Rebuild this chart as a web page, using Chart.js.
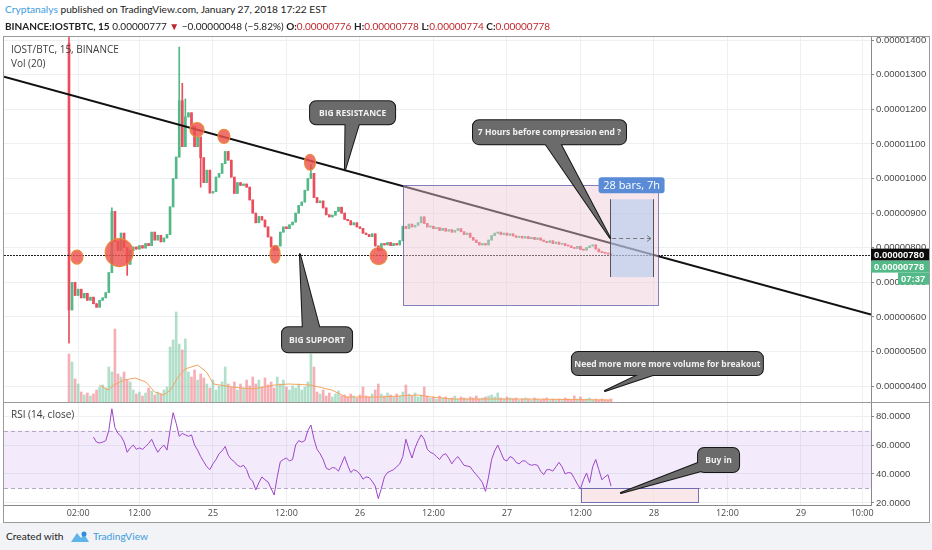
<!DOCTYPE html>
<html>
<head>
<meta charset="utf-8">
<script src="https://cdn.jsdelivr.net/npm/chart.js@4.4.1/dist/chart.umd.min.js"></script>
<style>
  body { margin:0; width:932px; height:550px; background:#fff; position:relative; overflow:hidden;
         font-family:"Open Sans", Arial, sans-serif; }
  .hdr { position:absolute; left:5px; white-space:nowrap; color:#222; z-index:5; font-family:Lato, "Open Sans", sans-serif; }
  #h1 { top:3px; font-size:10.2px; }
  #h2 { top:20px; font-size:10px; }
  .blue { color:#3d9be0; }
  .red { color:#c0262d; }
  #frame { position:absolute; left:3px; top:36px; width:925px; height:485px; border:1px solid #9a9a9a; z-index:4; pointer-events:none; }
  .sep { position:absolute; left:4px; width:925px; height:1px; background:#9a9a9a; top:402px; z-index:4; }
  canvas { position:absolute; left:4px; }
  #mainChart { top:30px; }
  #rsiChart { top:403px; }
  .leg { position:absolute; left:11px; font-size:10px; color:#3c3c3c; z-index:5; }
  #footer { position:absolute; left:0; top:523px; width:932px; height:27px; background:#f1f3f6; font-size:10.2px; color:#222; font-family:Lato, "Open Sans", sans-serif; }
  #footer span { position:absolute; top:7px; }
</style>
</head>
<body>
<div class="hdr" id="h1"><span class="blue">Cryptanalys</span> published on TradingView.com, January 27, 2018 17:22 EST</div>
<div class="hdr" id="h2"><b>BINANCE:IOSTBTC, 15</b> 0.00000777 <span class="red">▼</span> −0.00000048 (−5.82%) <b>O:</b><span class="red">0.00000776</span> <b>H:</b><span class="red">0.00000778</span> <b>L:</b><span class="red">0.00000774</span> <b>C:</b><span class="red">0.00000778</span></div>

<canvas id="mainChart" width="925" height="372"></canvas>
<canvas id="rsiChart" width="925" height="119"></canvas>
<div id="frame"></div>
<div class="sep"></div>
<div class="leg" style="top:42px">IOST/BTC, 15, BINANCE</div>
<div class="leg" style="top:56px">Vol (20)</div>
<div class="leg" style="top:407px">RSI (14, close)</div>

<div id="footer">
  <span style="left:6px">Created with</span>
  <svg style="position:absolute;left:70px;top:7px" width="20" height="13" viewBox="0 0 20 13">
    <path d="M1 12 L7 3 L11 8 L14 4 L19 12 Z" fill="#5fb4ea"/>
    <circle cx="14" cy="4" r="2.5" fill="#2f8fdc"/>
  </svg>
  <span style="left:93px;color:#3d9be0">TradingView</span>
</div>

<script>
/* ------------------------------------------------------------
   DATA  (prices in satoshi = 1e-8 BTC, one bar = 30 min,
          bar 0 = Jan 24 00:30)
------------------------------------------------------------ */
const closes = [
  620, 700, 662, 680, 655, 668, 648, 657, 638, 628,
  648, 655, 670, 728, 905, 818, 792, 842, 800, 752,
  792, 802, 796, 806, 799, 812, 806, 845, 822, 836,
  817, 828, 838, 918, 1000, 1062, 1225, 1092, 1178, 1190,
  1150, 1092, 1120, 1060, 988, 1024, 958, 962, 1004, 1015,
  1043, 1078, 1053, 1004, 957, 988, 980, 984, 975, 938,
  900, 872, 890, 880, 860, 831, 802, 793, 805, 845,
  860, 855, 866, 874, 900, 922, 932, 966, 1000, 1015,
  945, 930, 935, 915, 895, 889, 894, 905, 917, 900,
  882, 878, 866, 872, 860, 856, 842, 838, 832, 840,
  805, 792, 812, 808, 815, 806, 812, 808, 820, 862,
  855, 868, 860, 865, 872, 889, 870, 860, 862, 855,
  858, 850, 856, 848, 852, 845, 850, 855, 846, 838,
  842, 830, 822, 815, 808, 812, 808, 822, 835, 842,
  845, 838, 842, 836, 840, 834, 830, 833, 828, 832,
  826, 830, 824, 828, 822, 818, 815, 820, 812, 816,
  810, 812, 806, 805, 800, 798, 804, 795, 793, 800,
  805, 808, 796, 788, 786, 784, 782, 777
];
const firstOpen = 1390;
// wicks that stick out of the bodies: [bar, price]
const wickHighs = [[0, 1600], [14, 915], [36, 1380], [37, 1275], [38, 1230], [79, 1040]];
const wickLows = [[0, 524], [19, 720], [43, 975]];

const volumes = [
  48, 40, 23, 18, 10, 7, 9, 6, 8, 12,
  15, 17, 14, 35, 30, 73, 28, 25, 30, 22,
  20, 12, 8, 10, 6, 9, 14, 11, 7, 10,
  8, 12, 15, 55, 62, 90, 58, 52, 63, 30,
  25, 32, 22, 28, 24, 18, 14, 22, 12, 16,
  20, 35, 18, 15, 20, 12, 18, 14, 22, 16,
  25, 18, 22, 15, 24, 17, 20, 14, 25, 18,
  22, 15, 12, 16, 14, 18, 12, 15, 20, 48,
  35, 10, 8, 12, 6, 9, 5, 8, 11, 6,
  7, 5, 8, 6, 4, 7, 15, 6, 5, 8,
  12, 18, 8, 6, 9, 7, 5, 8, 6, 10,
  17, 8, 6, 9, 5, 7, 15, 6, 4, 5,
  3, 6, 4, 5, 3, 4, 6, 3, 5, 4,
  3, 5, 4, 6, 3, 4, 5, 6, 7, 5,
  9, 4, 3, 5, 4, 3, 4, 2, 3, 4,
  3, 2, 4, 3, 2, 3, 4, 2, 3, 2,
  3, 2, 4, 3, 2, 6, 3, 5, 2, 3,
  4, 2, 3, 2, 3, 2, 2, 3
];
const volMaBars = [9.9, 12.8, 14.6, 18.1, 21.6, 25.1, 28, 30.9, 33.2, 35.6, 37.9, 42, 44.9, 47.2,
                   53.1, 60.1, 67.1, 71.8, 78.8, 85.8, 90.4, 102.1, 113.8, 118.4, 125.4, 148.8, 177];
const volMaValues = [17, 12, 17, 22, 24, 20, 10, 7, 12, 25, 33, 37, 30, 18,
                     15, 13, 17, 18, 17, 12, 5, 5, 7, 5, 3, 3, 2];

const rsiStart = 8;
const rsiValues = [
  65.5, 62, 61.4, 62, 63, 70, 85, 72, 68, 66,
  62, 55, 58, 60, 57, 58, 57, 59, 61, 64,
  59, 55, 58, 60, 56.5, 70, 82.3, 75, 66, 68,
  67, 66, 67, 60, 56.5, 52, 48.5, 45, 43, 47,
  50, 54, 56, 59, 53, 50, 48.5, 46, 45, 46,
  43, 37, 35, 29, 34, 38, 36, 34.5, 30, 25.5,
  38, 48.5, 50, 51, 49, 50, 60, 63, 62, 63,
  70, 73.8, 64, 57, 54, 50, 44, 43, 44.5, 44,
  42, 47, 52, 46, 41, 43, 42, 40, 36.4, 38,
  37.5, 35, 31.6, 23, 30, 38, 41, 42, 43, 45,
  47, 52, 64, 57, 51, 58, 63, 67, 64, 57,
  55, 54, 52, 50, 53, 54, 51, 47, 50, 52,
  49, 46, 45.5, 45, 42, 39.5, 37, 34, 28, 38,
  50, 56, 60, 55, 50, 49, 52, 51, 48, 47,
  49, 49, 47, 46, 46.5, 46, 42, 39.5, 43, 43,
  42, 45, 48, 45, 40, 41, 40.7, 37, 33, 29.6,
  36, 40.7, 34, 45, 50, 43, 36, 38, 39.5, 31.6
];

const timeTickBars = [3, 23, 47, 71, 95, 119, 143, 167, 191, 215, 239, 259];
const timeTickLabels = ["02:00", "12:00", "25", "12:00", "26", "12:00", "27", "12:00", "28", "12:00", "29", "10:00"];
const priceTicks = [400, 500, 600, 700, 800, 900, 1000, 1100, 1200, 1300, 1400];
const rsiTicks = [20, 40, 60, 80];

const levelPrice = 780;
const lastPrice = 778;
const countdown = "07:37";

/* ------------------------------------------------------------
   DRAWINGS (anchored in bar / price units)
------------------------------------------------------------ */
const trendLine = [[-3, 1250], [191, 779]];
const compressionBox = { from: 109.1, to: 192.3, low: 634, high: 981 };
const dateRange = { from: 176.7, to: 190.7, low: 715, high: 940, arrow: 828, label: "28 bars, 7h" };
const circles = [
  [2.6, 773, 6, 7], [16.4, 786, 14, 14], [41.8, 1141, 7, 7], [50.6, 1122, 6, 7],
  [67.3, 781, 5, 9], [78.7, 1047, 5.5, 8], [101.1, 776, 8.5, 8.5]
];
const priceCallouts = [
  { text: "BIG RESISTANCE", at: [92.6, 1190], w: 85, h: 23, tip: [90.1, 1024], base: [[-7, 6], [8, 6]] },
  { text: "BIG SUPPORT", at: [81, 534], w: 70, h: 25, tip: [75.4, 781], base: [[-14, -6], [4, -6]] },
  { text: "7 Hours before compression end ?", at: [156.9, 1134], w: 153, h: 24, tip: [176.7, 828], base: [[-8, 6], [8, 6]] },
  { text: "Need more more more volume for breakout", at: [195.4, 465], w: 191, h: 23, tip: [175, 386], base: [[-16, 5], [5, 5]] }
];
const rsiBox = { from: 167.3, to: 205.5, low: 20.7, high: 30.3 };
const rsiCallout = { text: "Buy in", at: [212.1, 49.7], w: 41, h: 24, tip: [180.2, 26.9], base: [[-18, 2], [-10, 9]] };

/* ------------------------------------------------------------
   THEME
------------------------------------------------------------ */
const UP = "#53b987", DOWN = "#eb4d5c";
const GRID = "#edf0f3";
const X_MIN = -21.22, X_MAX = 261.88;

Chart.defaults.font.family = "'Open Sans', Arial, sans-serif";
Chart.defaults.animation = false;

/* ------------------------------------------------------------
   CANDLES
------------------------------------------------------------ */
const bars = closes.map((_, i) => i);
const opens = closes.map((c, i) => i === 0 ? firstOpen : closes[i - 1]);
const highs = bars.map(i => {
  const w = wickHighs.find(e => e[0] === i);
  return w ? w[1] : Math.max(opens[i], closes[i]);
});
const lows = bars.map(i => {
  const w = wickLows.find(e => e[0] === i);
  return w ? w[1] : Math.min(opens[i], closes[i]);
});
const isUp = bars.map(i => closes[i] >= opens[i]);

function fmtPrice(v) { return (v / 1e8).toFixed(8); }

function drawCallout(ctx, cx, cy, w, h, tip, base, text) {
  const b1 = [cx + base[0][0], cy + base[0][1]];
  const b2 = [cx + base[1][0], cy + base[1][1]];
  const tail = () => { ctx.beginPath(); ctx.moveTo(b1[0], b1[1]); ctx.lineTo(tip[0], tip[1]); ctx.lineTo(b2[0], b2[1]); ctx.closePath(); };
  const box = () => { ctx.beginPath(); ctx.roundRect(cx - w / 2, cy - h / 2, w, h, 6); };
  ctx.save();
  ctx.lineWidth = 2;
  ctx.lineJoin = "round";
  ctx.strokeStyle = "#161616";
  ctx.fillStyle = "#6b6b6b";
  tail(); ctx.stroke();
  box(); ctx.stroke();
  box(); ctx.fill();
  tail(); ctx.fill();
  ctx.fillStyle = "#f2f2f2";
  ctx.font = "bold 8.5px 'Open Sans', Arial, sans-serif";
  ctx.textAlign = "center";
  ctx.textBaseline = "middle";
  ctx.fillText(text, cx, cy + 0.5);
  ctx.restore();
}

function axisTag(ctx, x, y, w, bg, text) {
  ctx.fillStyle = bg;
  ctx.fillRect(x, y - 6, w, 12);
  ctx.fillStyle = "#fff";
  ctx.font = "bold 9.5px 'Liberation Sans', Arial, sans-serif";
  ctx.textAlign = "left";
  ctx.textBaseline = "middle";
  ctx.fillText(text, x + 3, y + 0.5);
}

const mainOverlays = {
  id: "mainOverlays",
  afterDatasetsDraw(chart) {
    const { ctx, chartArea: a, scales: { x, y } } = chart;
    ctx.save();
    ctx.beginPath();
    ctx.rect(a.left, a.top, a.width, a.height);
    ctx.clip();

    // support level
    ctx.strokeStyle = "#222";
    ctx.lineWidth = 1;
    ctx.setLineDash([2, 1]);
    const ly = Math.round(y.getPixelForValue(levelPrice)) + 0.5;
    ctx.beginPath(); ctx.moveTo(a.left, ly); ctx.lineTo(a.right, ly); ctx.stroke();
    ctx.setLineDash([]);

    // descending trend line, extended over the whole pane
    const [p, q] = trendLine;
    const x1 = x.getPixelForValue(p[0]), y1 = y.getPixelForValue(p[1]);
    const x2 = x.getPixelForValue(q[0]), y2 = y.getPixelForValue(q[1]);
    const k = (y2 - y1) / (x2 - x1);
    ctx.strokeStyle = "#111";
    ctx.lineWidth = 2;
    ctx.beginPath();
    ctx.moveTo(a.left, y1 + k * (a.left - x1));
    ctx.lineTo(a.right, y1 + k * (a.right - x1));
    ctx.stroke();

    // compression rectangle
    const bx = x.getPixelForValue(compressionBox.from), bx2 = x.getPixelForValue(compressionBox.to);
    const by = y.getPixelForValue(compressionBox.high), by2 = y.getPixelForValue(compressionBox.low);
    ctx.fillStyle = "rgba(237,199,213,0.45)";
    ctx.fillRect(bx, by, bx2 - bx, by2 - by);
    ctx.strokeStyle = "rgba(90,90,170,0.75)";
    ctx.lineWidth = 1;
    ctx.strokeRect(Math.round(bx) + 0.5, Math.round(by) + 0.5, Math.round(bx2 - bx), Math.round(by2 - by));

    // date range
    const rx = x.getPixelForValue(dateRange.from), rx2 = x.getPixelForValue(dateRange.to);
    const ry = y.getPixelForValue(dateRange.high), ry2 = y.getPixelForValue(dateRange.low);
    ctx.fillStyle = "rgba(165,198,240,0.5)";
    ctx.fillRect(rx, ry, rx2 - rx, ry2 - ry);
    ctx.strokeStyle = "#555";
    ctx.beginPath();
    ctx.moveTo(Math.round(rx) + 0.5, ry); ctx.lineTo(Math.round(rx) + 0.5, ry2);
    ctx.moveTo(Math.round(rx2) + 0.5, ry); ctx.lineTo(Math.round(rx2) + 0.5, ry2);
    ctx.stroke();
    const ay = Math.round(y.getPixelForValue(dateRange.arrow)) + 0.5;
    ctx.strokeStyle = "#777";
    ctx.setLineDash([4, 3]);
    ctx.beginPath(); ctx.moveTo(rx + 2, ay); ctx.lineTo(rx2 - 2, ay); ctx.stroke();
    ctx.setLineDash([]);
    ctx.beginPath(); ctx.moveTo(rx2 - 6, ay - 3); ctx.lineTo(rx2 - 2, ay); ctx.lineTo(rx2 - 6, ay + 3); ctx.stroke();
    const lx = (rx + rx2) / 2;
    ctx.fillStyle = "#5a8bd6";
    ctx.beginPath(); ctx.roundRect(lx - 33, ry - 22, 66, 16, 3); ctx.fill();
    ctx.fillStyle = "#fff";
    ctx.font = "11px 'Open Sans', Arial, sans-serif";
    ctx.textAlign = "center"; ctx.textBaseline = "middle";
    ctx.fillText(dateRange.label, lx, ry - 13.5);

    // touch points
    ctx.lineWidth = 1.2;
    circles.forEach(([bi, pr, rxx, ryy]) => {
      ctx.beginPath();
      ctx.ellipse(x.getPixelForValue(bi), y.getPixelForValue(pr), rxx, ryy, 0, 0, Math.PI * 2);
      ctx.fillStyle = "rgba(238,82,78,0.82)";
      ctx.fill();
      ctx.strokeStyle = "#e98a3c";
      ctx.stroke();
    });
    ctx.restore();

    priceCallouts.forEach(c => {
      drawCallout(ctx, x.getPixelForValue(c.at[0]), y.getPixelForValue(c.at[1]), c.w, c.h,
        [x.getPixelForValue(c.tip[0]), y.getPixelForValue(c.tip[1])], c.base, c.text);
    });
  },
  afterDraw(chart) {
    const { ctx, scales: { y } } = chart;
    const ty = y.getPixelForValue(levelPrice);
    ctx.save();
    axisTag(ctx, y.left, ty, y.width, "#0b0b0b", fmtPrice(levelPrice));
    axisTag(ctx, y.left, ty + 12, y.width, "#53b987", fmtPrice(lastPrice));
    axisTag(ctx, y.left + 27, ty + 24, y.width - 27, "#53b987", countdown);
    ctx.restore();
  }
};

new Chart(document.getElementById("mainChart"), {
  type: "bar",
  data: {
    datasets: [
      {
        label: "bodies",
        order: 0,
        data: bars.map(i => ({ x: i, y: [opens[i], closes[i]] })),
        backgroundColor: bars.map(i => isUp[i] ? UP : DOWN),
        barThickness: 2,
        minBarLength: 1,
        grouped: false,
        yAxisID: "y"
      },
      {
        label: "wicks",
        order: 1,
        data: bars.map(i => ({ x: i, y: [lows[i], highs[i]] })),
        backgroundColor: bars.map(i => isUp[i] ? UP : DOWN),
        barThickness: 1,
        grouped: false,
        yAxisID: "y"
      },
      {
        label: "Vol MA",
        type: "line",
        order: 2,
        data: volMaBars.map((b, k) => ({ x: b, y: volMaValues[k] })),
        borderColor: "#f4a460",
        borderWidth: 1,
        pointRadius: 0,
        yAxisID: "yVol"
      },
      {
        label: "Volume",
        order: 3,
        data: bars.map(i => ({ x: i, y: volumes[i] })),
        backgroundColor: bars.map(i => isUp[i] ? "rgba(83,185,135,0.45)" : "rgba(235,77,92,0.45)"),
        barThickness: 2,
        grouped: false,
        yAxisID: "yVol"
      }
    ]
  },
  options: {
    responsive: false,
    layout: { padding: { top: 7, left: 0, right: 0, bottom: 0 } },
    plugins: { legend: { display: false }, tooltip: { enabled: false } },
    scales: {
      x: {
        type: "linear", min: X_MIN, max: X_MAX, offset: false,
        afterBuildTicks: s => { s.ticks = timeTickBars.map(v => ({ value: v })); },
        afterFit: s => { s.height = 0; s.paddingLeft = 0; s.paddingRight = 0; },
        ticks: { display: false },
        grid: { color: GRID, drawTicks: false, offset: false },
        border: { display: false }
      },
      y: {
        position: "right", min: 354, max: 1409,
        afterBuildTicks: s => { s.ticks = priceTicks.map(v => ({ value: v })); },
        afterFit: s => { s.width = 58; s.paddingTop = 0; s.paddingBottom = 0; },
        ticks: { callback: v => fmtPrice(v), color: "#4a4a4a", padding: 2,
                 font: { size: 9.5, family: "'Liberation Sans', Arial, sans-serif" } },
        grid: { color: GRID, tickLength: 3, tickColor: "#888" },
        border: { color: "#8a8a8a" }
      },
      yVol: { display: false, min: 0, max: 365 }
    }
  },
  plugins: [mainOverlays]
});

/* ------------------------------------------------------------
   RSI PANE
------------------------------------------------------------ */
const rsiOverlays = {
  id: "rsiOverlays",
  beforeDatasetsDraw(chart) {
    const { ctx, chartArea: a, scales: { y } } = chart;
    const top = y.getPixelForValue(70), bot = y.getPixelForValue(30);
    ctx.save();
    ctx.fillStyle = "rgba(160,90,225,0.12)";
    ctx.fillRect(a.left, top, a.width, bot - top);
    ctx.strokeStyle = "#b4a8c4";
    ctx.setLineDash([4, 3]);
    [top, bot].forEach(v => {
      ctx.beginPath(); ctx.moveTo(a.left, Math.round(v) + 0.5); ctx.lineTo(a.right, Math.round(v) + 0.5); ctx.stroke();
    });
    ctx.restore();
  },
  afterDatasetsDraw(chart) {
    const { ctx, scales: { x, y } } = chart;
    const bx = x.getPixelForValue(rsiBox.from), bx2 = x.getPixelForValue(rsiBox.to);
    const by = y.getPixelForValue(rsiBox.high), by2 = y.getPixelForValue(rsiBox.low);
    ctx.save();
    ctx.fillStyle = "rgba(245,215,220,0.6)";
    ctx.fillRect(bx, by, bx2 - bx, by2 - by);
    ctx.strokeStyle = "rgba(90,90,170,0.85)";
    ctx.lineWidth = 1;
    ctx.strokeRect(Math.round(bx) + 0.5, Math.round(by) + 0.5, Math.round(bx2 - bx), Math.round(by2 - by));
    ctx.restore();
    const c = rsiCallout;
    drawCallout(ctx, x.getPixelForValue(c.at[0]), y.getPixelForValue(c.at[1]), c.w, c.h,
      [x.getPixelForValue(c.tip[0]), y.getPixelForValue(c.tip[1])], c.base, c.text);
  }
};

new Chart(document.getElementById("rsiChart"), {
  type: "line",
  data: {
    datasets: [{
      label: "RSI (14, close)",
      data: rsiValues.map((v, k) => ({ x: rsiStart + k, y: v })),
      borderColor: "#9c45c8",
      borderWidth: 1,
      pointRadius: 0,
      tension: 0
    }]
  },
  options: {
    responsive: false,
    layout: { padding: 0 },
    plugins: { legend: { display: false }, tooltip: { enabled: false } },
    scales: {
      x: {
        type: "linear", min: X_MIN, max: X_MAX, offset: false,
        afterBuildTicks: s => { s.ticks = timeTickBars.map(v => ({ value: v })); },
        afterFit: s => { s.height = 17; s.paddingLeft = 0; s.paddingRight = 0; },
        ticks: { callback: v => timeTickLabels[timeTickBars.indexOf(v)], color: "#4a4a4a",
                 font: { size: 9 }, maxRotation: 0, autoSkip: false, padding: 3 },
        grid: { color: GRID, drawTicks: false },
        border: { color: "#8a8a8a" }
      },
      y: {
        position: "right", min: 18.6, max: 89,
        afterBuildTicks: s => { s.ticks = rsiTicks.map(v => ({ value: v })); },
        afterFit: s => { s.width = 58; s.paddingTop = 0; s.paddingBottom = 0; },
        ticks: { callback: v => v.toFixed(4), color: "#4a4a4a", padding: 2,
                 font: { size: 9.5, family: "'Liberation Sans', Arial, sans-serif" } },
        grid: { color: GRID, tickLength: 3, tickColor: "#888" },
        border: { color: "#8a8a8a" }
      }
    }
  },
  plugins: [rsiOverlays]
});
</script>
</body>
</html>
